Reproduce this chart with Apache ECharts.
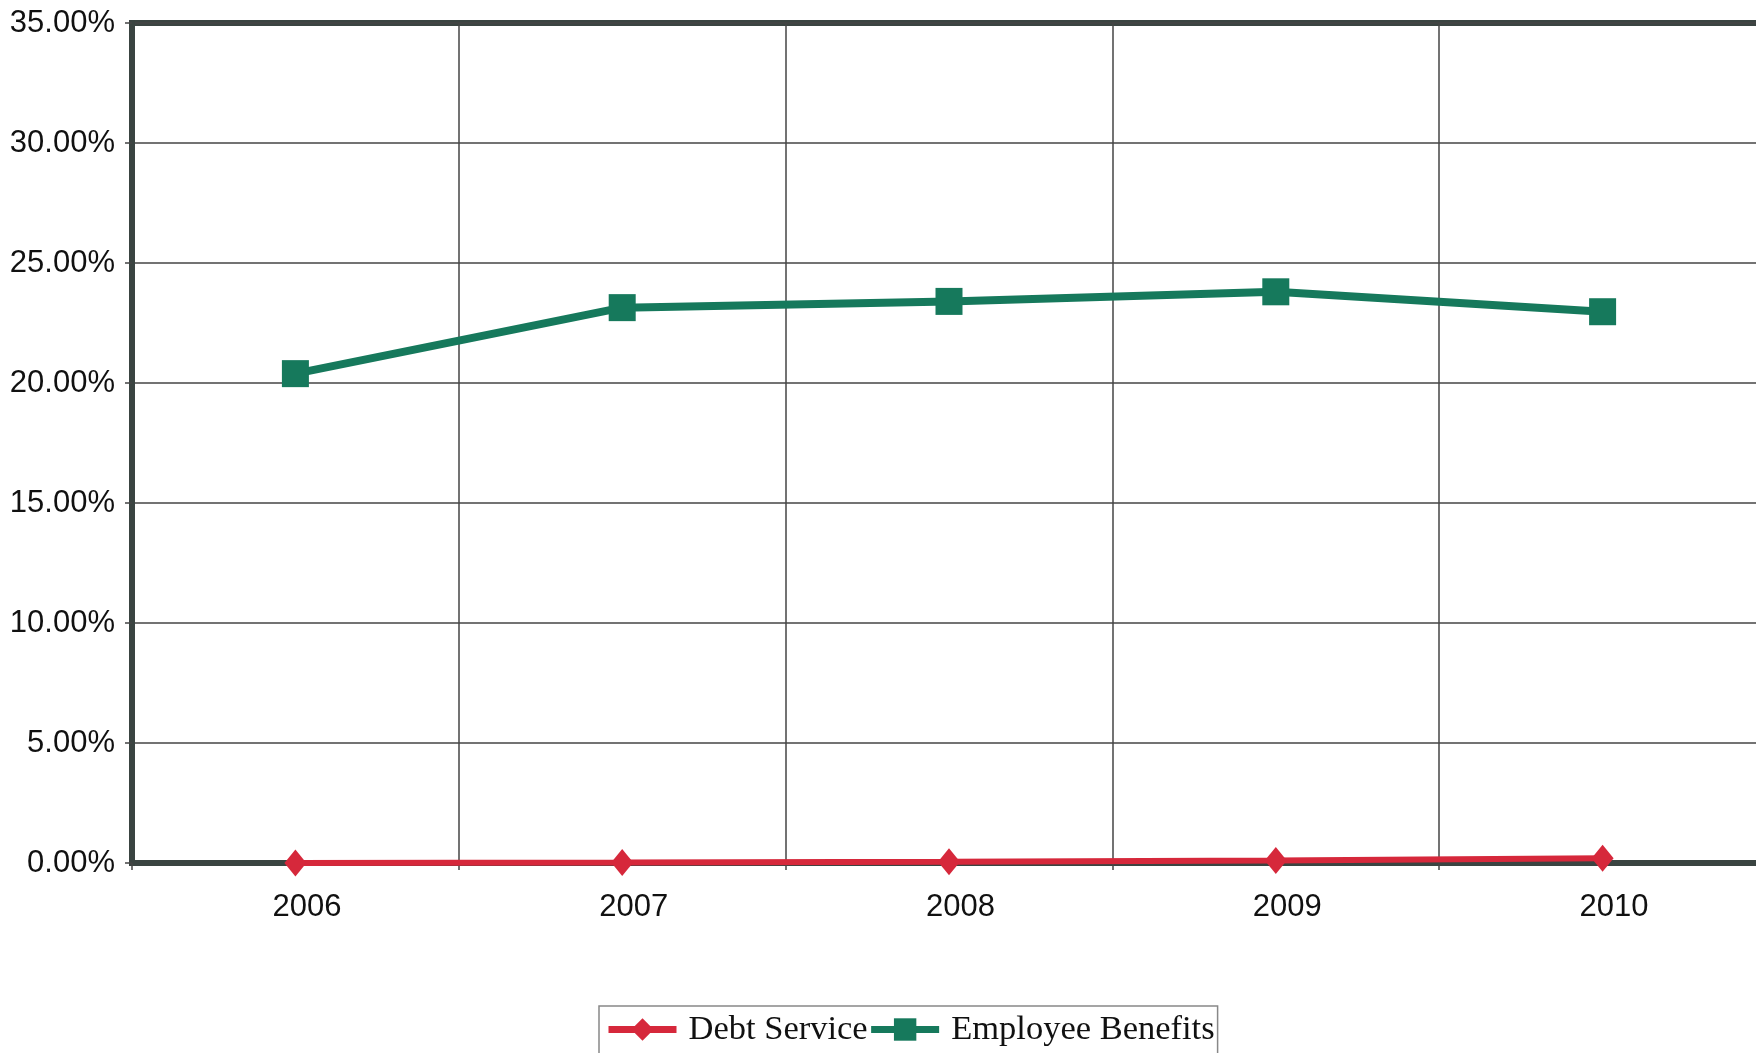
<!DOCTYPE html>
<html>
<head>
<meta charset="utf-8">
<script src="https://cdn.jsdelivr.net/npm/echarts@6/dist/echarts.min.js"></script>
<style>html,body{margin:0;padding:0;background:#fff;}#chart{width:1756px;height:1053px;}</style>
</head>
<body>
<div id="chart"></div>
<script>
const categories = ['2006', '2007', '2008', '2009', '2010'];
const debtService = [0.0, 0.02, 0.05, 0.1, 0.2];
const employeeBenefits = [20.39, 23.14, 23.40, 23.80, 22.97];
const yTicks = { min: 0, max: 35, interval: 5 };

const chart = echarts.init(document.getElementById('chart'));
chart.setOption({
  animation: false,
  backgroundColor: '#ffffff',
  grid: {
    left: 132, top: 23, width: 1634, bottom: 190,
    outerBoundsMode: 'none',
    show: true, borderColor: '#3a4441', borderWidth: 6, backgroundColor: 'transparent'
  },
  legend: {
    left: 599, top: 1006,
    padding: [6, 3, 40, 6],
    itemGap: 0,
    itemWidth: 68, itemHeight: 28,
    borderColor: '#888', borderWidth: 1.5,
    lineStyle: { width: 7 },
    data: ['Debt Service', 'Employee Benefits'],
    textStyle: { fontFamily: 'Liberation Serif', fontSize: 34.5, color: '#111', lineHeight: 34, padding: [0, 0, 0, 7] }
  },
  xAxis: {
    type: 'category',
    data: categories,
    boundaryGap: true,
    axisLine: { show: true, lineStyle: { color: '#3a4441', width: 6 } },
    axisTick: { show: true, length: 7, lineStyle: { color: '#444', width: 1.5 } },
    splitLine: { show: true, lineStyle: { color: '#444', width: 1.5 } },
    axisLabel: { fontFamily: 'Liberation Sans', fontSize: 31, color: '#111', margin: 29, padding: [0, 0, 0, 23] }
  },
  yAxis: {
    type: 'value',
    min: yTicks.min, max: yTicks.max, interval: yTicks.interval,
    axisLine: { show: true, lineStyle: { color: '#3a4441', width: 6 } },
    axisTick: { show: true, length: 7, lineStyle: { color: '#444', width: 1.5 } },
    splitLine: { show: true, lineStyle: { color: '#444', width: 1.5 } },
    axisLabel: { fontFamily: 'Liberation Sans', fontSize: 31, color: '#111', margin: 17,
      formatter: v => v.toFixed(2) + '%' }
  },
  series: [
    {
      name: 'Debt Service', type: 'line', data: debtService,
      symbol: 'diamond', symbolSize: [22, 27],
      lineStyle: { color: '#d6283b', width: 6 },
      itemStyle: { color: '#d6283b' }, z: 5
    },
    {
      name: 'Employee Benefits', type: 'line', data: employeeBenefits,
      symbol: 'rect', symbolSize: 27,
      lineStyle: { color: '#16795c', width: 8 },
      itemStyle: { color: '#16795c' }, z: 4
    }
  ]
});
</script>
</body>
</html>
